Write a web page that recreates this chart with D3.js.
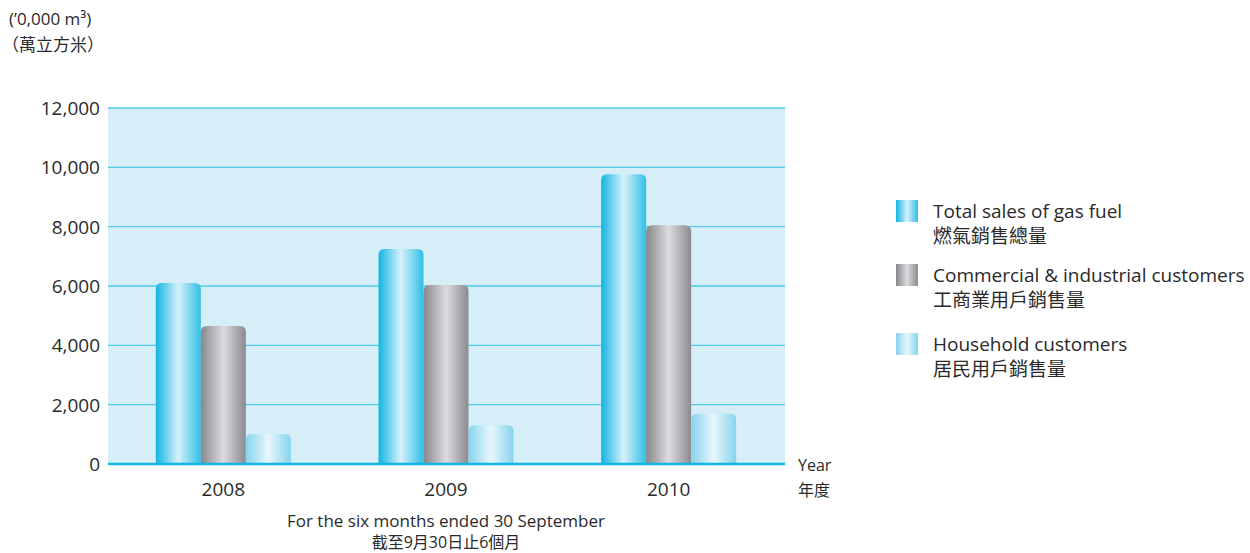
<!DOCTYPE html>
<html>
<head>
<meta charset="utf-8">
<script src="https://cdn.jsdelivr.net/npm/d3@7"></script>
<style>
  body { margin: 0; background: #fff; }
  svg text { font-family: "Open Sans", "Noto Sans", "Noto Sans CJK TC", sans-serif; fill: #2a2a2a; }
</style>
</head>
<body>
<div id="viz"></div>
<script>
const years = ["2008", "2009", "2010"];
const seriesKeys = ["total", "commercial", "household"];
const totalSales = [6100, 7250, 9770];
const commercialSales = [4650, 6030, 8050];
const householdSales = [1010, 1310, 1690];
const yTicks = [0, 2000, 4000, 6000, 8000, 10000, 12000];
const legendEn = ["Total sales of gas fuel", "Commercial & industrial customers", "Household customers"];
const legendZh = ["燃氣銷售總量", "工商業用戶銷售量", "居民用戶銷售量"];

const seriesValues = { total: totalSales, commercial: commercialSales, household: householdSales };

const gradients = {
  total: ["#12b5e2", "#d6f1fa", "#2fbfe6"],
  commercial: ["#86868c", "#dcdcde", "#8a8a90"],
  household: ["#86d3ee", "#e8f7fc", "#86d3ee"],
};

const svg = d3.select("#viz").append("svg")
  .attr("width", 1250)
  .attr("height", 553);

const defs = svg.append("defs");
seriesKeys.forEach(k => {
  const g = defs.append("linearGradient").attr("id", "grad-" + k)
    .attr("x1", "0%").attr("x2", "100%").attr("y1", "0%").attr("y2", "0%");
  g.append("stop").attr("offset", "0%").attr("stop-color", gradients[k][0]);
  g.append("stop").attr("offset", "50%").attr("stop-color", gradients[k][1]);
  g.append("stop").attr("offset", "100%").attr("stop-color", gradients[k][2]);
});

const plotLeft = 108, plotRight = 785, plotTop = 108, plotBottom = 464;

const y = d3.scaleLinear().domain([0, 12000]).range([plotBottom, plotTop]);
const x0 = d3.scaleBand().domain(years).range([112, 780]);
const groupW = 135;
const x1 = d3.scaleBand().domain(seriesKeys).range([0, groupW]);

// background
svg.append("rect")
  .attr("x", plotLeft).attr("y", plotTop)
  .attr("width", plotRight - plotLeft).attr("height", plotBottom - plotTop)
  .attr("fill", "#d5eef8");

// gridlines
svg.append("g").selectAll("line")
  .data(yTicks.filter(d => d > 0))
  .join("line")
  .attr("x1", plotLeft).attr("x2", plotRight)
  .attr("y1", d => y(d)).attr("y2", d => y(d))
  .attr("stroke", "#4fcbeb").attr("stroke-width", 1.3);

// y tick labels
svg.append("g").selectAll("text")
  .data(yTicks)
  .join("text")
  .attr("x", 100).attr("y", d => y(d))
  .attr("dy", "0.36em")
  .attr("text-anchor", "end")
  .style("font-size", "19px")
  .text(d => d3.format(",")(d));

// bars with rounded tops
function barPath(x, yTop, w, h, r) {
  r = Math.min(r, h, w / 2);
  return `M${x},${yTop + h}V${yTop + r}Q${x},${yTop} ${x + r},${yTop}H${x + w - r}Q${x + w},${yTop} ${x + w},${yTop + r}V${yTop + h}Z`;
}

const groups = svg.append("g").selectAll("g")
  .data(years)
  .join("g")
  .attr("transform", d => `translate(${x0(d) + (x0.bandwidth() - groupW) / 2},0)`);

groups.selectAll("path")
  .data((yr, i) => seriesKeys.map(k => ({ key: k, value: seriesValues[k][i] })))
  .join("path")
  .attr("d", d => barPath(x1(d.key), y(d.value), x1.bandwidth(), y(0) - y(d.value), 6))
  .attr("fill", d => `url(#grad-${d.key})`);

// baseline
svg.append("line")
  .attr("x1", plotLeft).attr("x2", plotRight)
  .attr("y1", y(0)).attr("y2", y(0))
  .attr("stroke", "#14b4e0").attr("stroke-width", 2.5);

// x labels
svg.append("g").selectAll("text")
  .data(years)
  .join("text")
  .attr("x", d => x0(d) + x0.bandwidth() / 2)
  .attr("y", 496)
  .attr("text-anchor", "middle")
  .style("font-size", "19px")
  .text(d => d);

// unit label
svg.append("text").attr("x", 9).attr("y", 25).style("font-size", "17px").text("(’0,000 m³)");
svg.append("text").attr("x", 2).attr("y", 51).style("font-size", "17px").text("（萬立方米）");

// year label
svg.append("text").attr("x", 798).attr("y", 471).style("font-size", "16px").text("Year");
svg.append("text").attr("x", 798).attr("y", 496).style("font-size", "16px").text("年度");

// footnote
svg.append("text").attr("x", 446).attr("y", 527).attr("text-anchor", "middle")
  .style("font-size", "17px").text("For the six months ended 30 September");
svg.append("text").attr("x", 446).attr("y", 548).attr("text-anchor", "middle")
  .style("font-size", "16px").text("截至9月30日止6個月");

// legend
const legendY = [200, 264, 333];
const legend = svg.append("g").selectAll("g")
  .data(seriesKeys)
  .join("g")
  .attr("transform", (d, i) => `translate(896,${legendY[i]})`);

legend.append("rect")
  .attr("width", 22).attr("height", 22)
  .attr("fill", d => `url(#grad-${d})`);

legend.append("text")
  .attr("x", 37).attr("y", 18)
  .style("font-size", "19px")
  .text((d, i) => legendEn[i]);

legend.append("text")
  .attr("x", 37).attr("y", 43)
  .style("font-size", "19px")
  .text((d, i) => legendZh[i]);
</script>
</body>
</html>
